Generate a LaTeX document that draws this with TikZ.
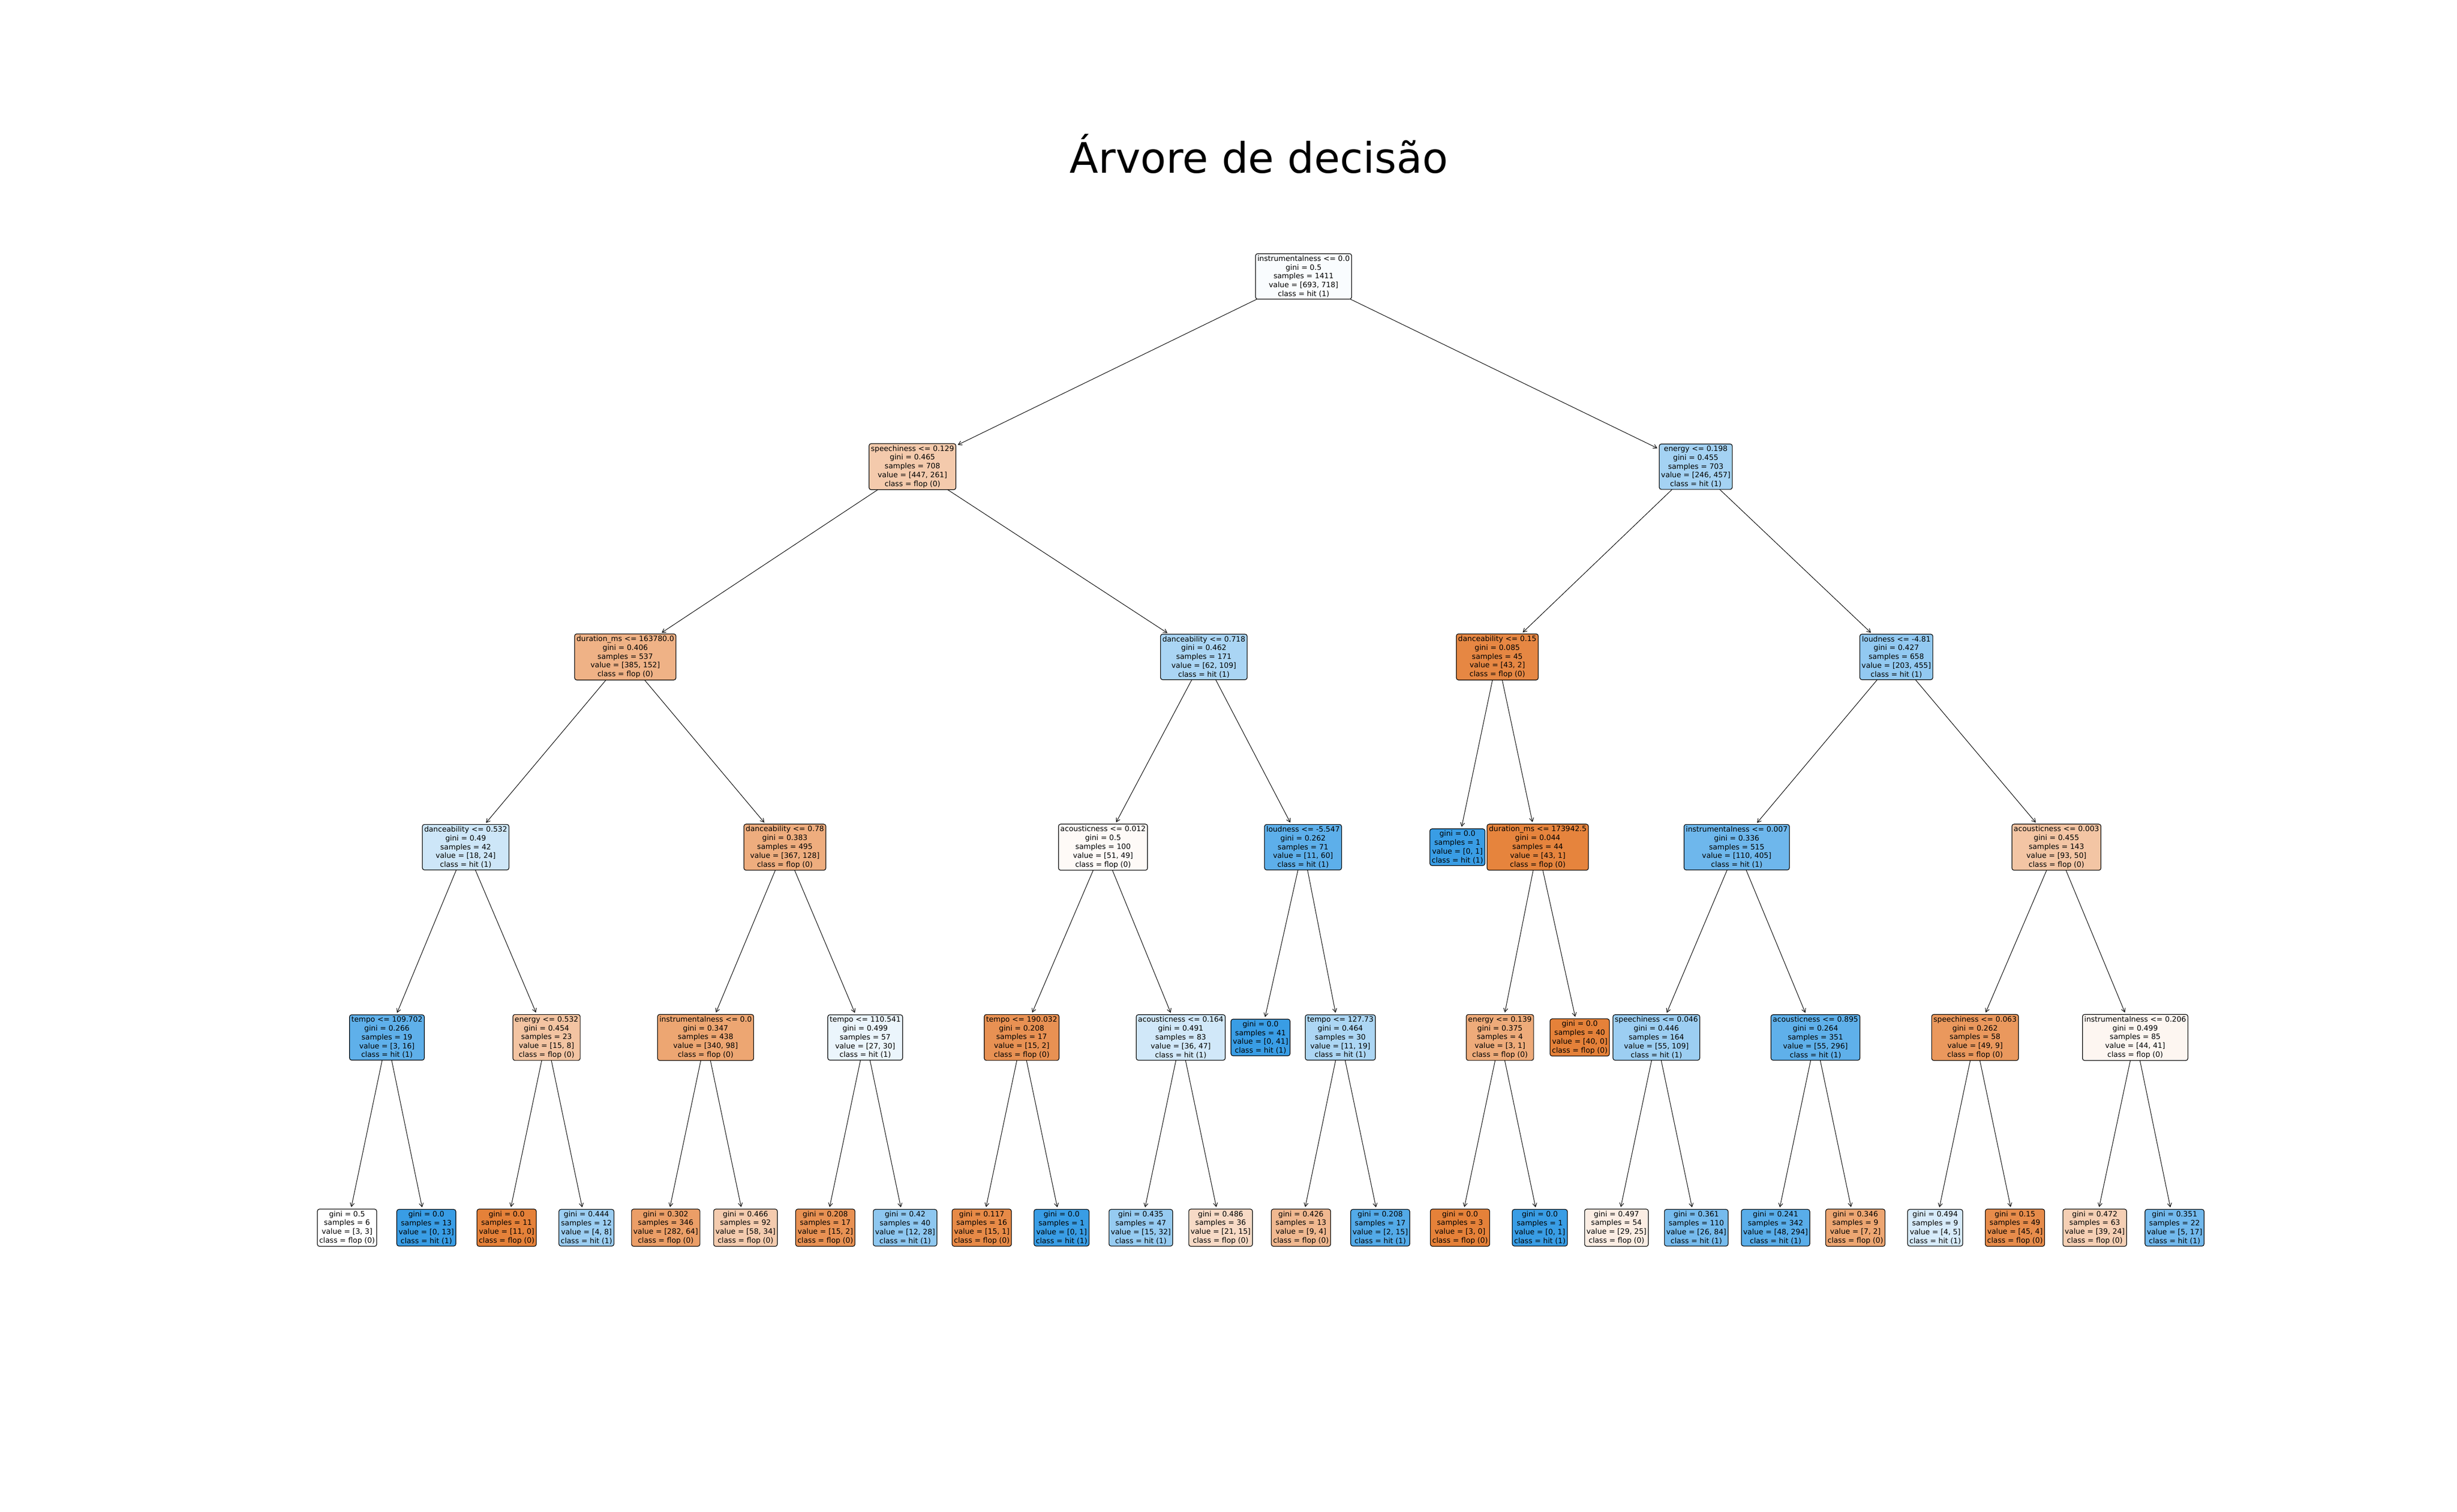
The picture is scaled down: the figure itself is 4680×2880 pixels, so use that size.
\documentclass[tikz,border=0pt]{standalone}
\usepackage{fontspec}
\setmainfont{DejaVu Sans}
\usetikzlibrary{arrows.meta}
\definecolor{flop}{RGB}{229,129,57}
\definecolor{hit}{RGB}{57,157,229}

\begin{document}
\begin{tikzpicture}[x=1pt, y=-1pt,
    split/.style={draw, rounded corners=4pt, align=center, inner sep=3.5pt, outer sep=0pt, line width=1.2pt, font=\fontsize{14}{16.8}\selectfont},
    edge/.style={line width=1pt, -{Straight Barb[length=7pt, width=8pt]}, shorten >=4pt}]
    \useasboundingbox (0,0) rectangle (4680,2880);

    % Titel
    \node[font=\fontsize{80}{96}\selectfont, anchor=base] (title) at (2398,329) {Árvore de decisão};

    % Wurzel
    \node[split, fill=hit!3] (root) at (2483,526.5) {instrumentalness <= 0.0\\gini = 0.5\\samples = 1411\\value = [693, 718]\\class = hit (1)};

    % Ebene 1
    \node[split, fill=flop!42] (L) at (1738,888.9) {speechiness <= 0.129\\gini = 0.465\\samples = 708\\value = [447, 261]\\class = flop (0)};
    \node[split, fill=hit!46] (R) at (3230,888.9) {energy <= 0.198\\gini = 0.455\\samples = 703\\value = [246, 457]\\class = hit (1)};

    % Ebene 2
    \node[split, fill=flop!61] (LL) at (1191,1251.3) {duration\_ms <= 163780.0\\gini = 0.406\\samples = 537\\value = [385, 152]\\class = flop (0)};
    \node[split, fill=hit!43] (LR) at (2293,1251.3) {danceability <= 0.718\\gini = 0.462\\samples = 171\\value = [62, 109]\\class = hit (1)};
    \node[split, fill=flop!95] (RL) at (2852,1251.3) {danceability <= 0.15\\gini = 0.085\\samples = 45\\value = [43, 2]\\class = flop (0)};
    \node[split, fill=hit!55] (RR) at (3612,1251.3) {loudness <= -4.81\\gini = 0.427\\samples = 658\\value = [203, 455]\\class = hit (1)};

    % Ebene 3
    \node[split, fill=hit!25] (LLL) at (887,1613.7) {danceability <= 0.532\\gini = 0.49\\samples = 42\\value = [18, 24]\\class = hit (1)};
    \node[split, fill=flop!65] (LLR) at (1495,1613.7) {danceability <= 0.78\\gini = 0.383\\samples = 495\\value = [367, 128]\\class = flop (0)};
    \node[split, fill=flop!4] (LRL) at (2101,1613.7) {acousticness <= 0.012\\gini = 0.5\\samples = 100\\value = [51, 49]\\class = flop (0)};
    \node[split, fill=hit!82] (LRR) at (2482,1613.7) {loudness <= -5.547\\gini = 0.262\\samples = 71\\value = [11, 60]\\class = hit (1)};
    \node[split, fill=hit] (RLL) at (2776,1613.7) {gini = 0.0\\samples = 1\\value = [0, 1]\\class = hit (1)};
    \node[split, fill=flop!98] (RLR) at (2929,1613.7) {duration\_ms <= 173942.5\\gini = 0.044\\samples = 44\\value = [43, 1]\\class = flop (0)};
    \node[split, fill=hit!73] (RRL) at (3308,1613.7) {instrumentalness <= 0.007\\gini = 0.336\\samples = 515\\value = [110, 405]\\class = hit (1)};
    \node[split, fill=flop!46] (RRR) at (3917,1613.7) {acousticness <= 0.003\\gini = 0.455\\samples = 143\\value = [93, 50]\\class = flop (0)};

    % Ebene 4
    \node[split, fill=hit!81] (LLLL) at (737,1976.1) {tempo <= 109.702\\gini = 0.266\\samples = 19\\value = [3, 16]\\class = hit (1)};
    \node[split, fill=flop!47] (LLLR) at (1041,1976.1) {energy <= 0.532\\gini = 0.454\\samples = 23\\value = [15, 8]\\class = flop (0)};
    \node[split, fill=flop!71] (LLRL) at (1344,1976.1) {instrumentalness <= 0.0\\gini = 0.347\\samples = 438\\value = [340, 98]\\class = flop (0)};
    \node[split, fill=hit!10] (LLRR) at (1648,1976.1) {tempo <= 110.541\\gini = 0.499\\samples = 57\\value = [27, 30]\\class = hit (1)};
    \node[split, fill=flop!87] (LRLL) at (1946,1976.1) {tempo <= 190.032\\gini = 0.208\\samples = 17\\value = [15, 2]\\class = flop (0)};
    \node[split, fill=hit!23] (LRLR) at (2249,1976.1) {acousticness <= 0.164\\gini = 0.491\\samples = 83\\value = [36, 47]\\class = hit (1)};
    \node[split, fill=hit] (LRRL) at (2401,1976.1) {gini = 0.0\\samples = 41\\value = [0, 41]\\class = hit (1)};
    \node[split, fill=hit!42] (LRRR) at (2553,1976.1) {tempo <= 127.73\\gini = 0.464\\samples = 30\\value = [11, 19]\\class = hit (1)};
    \node[split, fill=flop!67] (RLRL) at (2857,1976.1) {energy <= 0.139\\gini = 0.375\\samples = 4\\value = [3, 1]\\class = flop (0)};
    \node[split, fill=flop] (RLRR) at (3009,1976.1) {gini = 0.0\\samples = 40\\value = [40, 0]\\class = flop (0)};
    \node[split, fill=hit!50] (RRLL) at (3155,1976.1) {speechiness <= 0.046\\gini = 0.446\\samples = 164\\value = [55, 109]\\class = hit (1)};
    \node[split, fill=hit!81] (RRLR) at (3458,1976.1) {acousticness <= 0.895\\gini = 0.264\\samples = 351\\value = [55, 296]\\class = hit (1)};
    \node[split, fill=flop!82] (RRRL) at (3762,1976.1) {speechiness <= 0.063\\gini = 0.262\\samples = 58\\value = [49, 9]\\class = flop (0)};
    \node[split, fill=flop!7] (RRRR) at (4067,1976.1) {instrumentalness <= 0.206\\gini = 0.499\\samples = 85\\value = [44, 41]\\class = flop (0)};

    % Ebene 5 (Blaetter)
    \node[split, fill=white] (LLLLL) at (661,2338.5) {gini = 0.5\\samples = 6\\value = [3, 3]\\class = flop (0)};
    \node[split, fill=hit] (LLLLR) at (812,2338.5) {gini = 0.0\\samples = 13\\value = [0, 13]\\class = hit (1)};
    \node[split, fill=flop] (LLLRL) at (965,2338.5) {gini = 0.0\\samples = 11\\value = [11, 0]\\class = flop (0)};
    \node[split, fill=hit!50] (LLLRR) at (1117,2338.5) {gini = 0.444\\samples = 12\\value = [4, 8]\\class = hit (1)};
    \node[split, fill=flop!77] (LLRLL) at (1268,2338.5) {gini = 0.302\\samples = 346\\value = [282, 64]\\class = flop (0)};
    \node[split, fill=flop!41] (LLRLR) at (1420,2338.5) {gini = 0.466\\samples = 92\\value = [58, 34]\\class = flop (0)};
    \node[split, fill=flop!87] (LLRRL) at (1572,2338.5) {gini = 0.208\\samples = 17\\value = [15, 2]\\class = flop (0)};
    \node[split, fill=hit!57] (LLRRR) at (1724,2338.5) {gini = 0.42\\samples = 40\\value = [12, 28]\\class = hit (1)};
    \node[split, fill=flop!93] (LRLLL) at (1870,2338.5) {gini = 0.117\\samples = 16\\value = [15, 1]\\class = flop (0)};
    \node[split, fill=hit] (LRLLR) at (2022,2338.5) {gini = 0.0\\samples = 1\\value = [0, 1]\\class = hit (1)};
    \node[split, fill=hit!53] (LRLRL) at (2173,2338.5) {gini = 0.435\\samples = 47\\value = [15, 32]\\class = hit (1)};
    \node[split, fill=flop!29] (LRLRR) at (2325,2338.5) {gini = 0.486\\samples = 36\\value = [21, 15]\\class = flop (0)};
    \node[split, fill=flop!56] (LRRRL) at (2478,2338.5) {gini = 0.426\\samples = 13\\value = [9, 4]\\class = flop (0)};
    \node[split, fill=hit!87] (LRRRR) at (2629,2338.5) {gini = 0.208\\samples = 17\\value = [2, 15]\\class = hit (1)};
    \node[split, fill=flop] (RLRLL) at (2781,2338.5) {gini = 0.0\\samples = 3\\value = [3, 0]\\class = flop (0)};
    \node[split, fill=hit] (RLRLR) at (2933,2338.5) {gini = 0.0\\samples = 1\\value = [0, 1]\\class = hit (1)};
    \node[split, fill=flop!14] (RRLLL) at (3079,2338.5) {gini = 0.497\\samples = 54\\value = [29, 25]\\class = flop (0)};
    \node[split, fill=hit!69] (RRLLR) at (3231,2338.5) {gini = 0.361\\samples = 110\\value = [26, 84]\\class = hit (1)};
    \node[split, fill=hit!84] (RRLRL) at (3382,2338.5) {gini = 0.241\\samples = 342\\value = [48, 294]\\class = hit (1)};
    \node[split, fill=flop!71] (RRLRR) at (3534,2338.5) {gini = 0.346\\samples = 9\\value = [7, 2]\\class = flop (0)};
    \node[split, fill=hit!20] (RRRLL) at (3686,2338.5) {gini = 0.494\\samples = 9\\value = [4, 5]\\class = hit (1)};
    \node[split, fill=flop!91] (RRRLR) at (3838,2338.5) {gini = 0.15\\samples = 49\\value = [45, 4]\\class = flop (0)};
    \node[split, fill=flop!38] (RRRRL) at (3990,2338.5) {gini = 0.472\\samples = 63\\value = [39, 24]\\class = flop (0)};
    \node[split, fill=hit!71] (RRRRR) at (4142,2338.5) {gini = 0.351\\samples = 22\\value = [5, 17]\\class = hit (1)};

    % Kanten
    \foreach \a/\b in {root/L, root/R, L/LL, L/LR, R/RL, R/RR,
        LL/LLL, LL/LLR, LR/LRL, LR/LRR, RL/RLL, RL/RLR, RR/RRL, RR/RRR,
        LLL/LLLL, LLL/LLLR, LLR/LLRL, LLR/LLRR, LRL/LRLL, LRL/LRLR, LRR/LRRL, LRR/LRRR,
        RLR/RLRL, RLR/RLRR, RRL/RRLL, RRL/RRLR, RRR/RRRL, RRR/RRRR,
        LLLL/LLLLL, LLLL/LLLLR, LLLR/LLLRL, LLLR/LLLRR, LLRL/LLRLL, LLRL/LLRLR, LLRR/LLRRL, LLRR/LLRRR,
        LRLL/LRLLL, LRLL/LRLLR, LRLR/LRLRL, LRLR/LRLRR, LRRR/LRRRL, LRRR/LRRRR,
        RLRL/RLRLL, RLRL/RLRLR, RRLL/RRLLL, RRLL/RRLLR, RRLR/RRLRL, RRLR/RRLRR,
        RRRL/RRRLL, RRRL/RRRLR, RRRR/RRRRL, RRRR/RRRRR}
        \draw[edge] (\a) -- (\b);
\end{tikzpicture}
\end{document}
